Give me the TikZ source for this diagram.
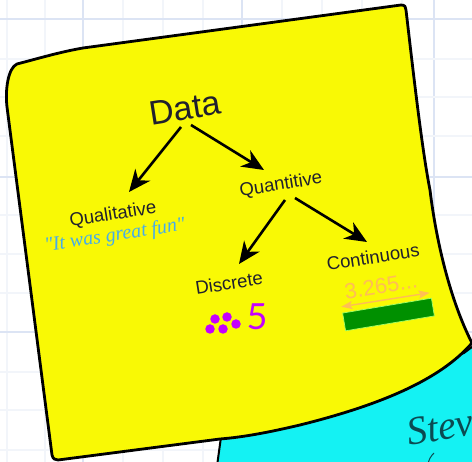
\documentclass[tikz,border=0pt]{standalone}
\usepackage{fontspec}
\setmainfont{Liberation Sans}
\newfontfamily\serifq{Liberation Serif}
\newfontfamily\thinf{Lato}
\usetikzlibrary{arrows.meta,calc}
\definecolor{stickyY}{HTML}{F9F905}
\definecolor{stickyC}{HTML}{14F2F3}
\definecolor{gridA}{HTML}{DCE4F4}
\definecolor{gridB}{HTML}{F2F5FA}
\definecolor{inkT}{HTML}{20202E}
\definecolor{quoteB}{HTML}{45ACEB}
\definecolor{orangeT}{HTML}{FFBE55}
\definecolor{purpleD}{HTML}{C400FF}
\definecolor{greenB}{HTML}{009000}
\definecolor{tealT}{HTML}{0B4B52}
\tikzset{
  lab/.style={text=inkT,inner sep=0pt,rotate=9,font=\fontsize{18.5}{18.5}\selectfont},
  conn/.style={draw=black,line width=2.6pt,-{Stealth[length=22pt,width=19pt,inset=7pt]}},
  dotp/.style={circle,fill=purpleD,minimum size=9.5pt,inner sep=0pt},
  gmaj/.style={draw=gridA,line width=1.6pt},
  gmin/.style={draw=gridB,line width=1.4pt}
}
\begin{document}
\begin{tikzpicture}[x=1pt,y=-1pt]
\useasboundingbox (0,0) rectangle (472,462);
\clip (0,0) rectangle (472,462);
\fill[white] (0,0) rectangle (472,462);
% grid
\foreach \x in {7,45,123,163,203,282,322,362,402}{\draw[gmin] (\x,0)--(\x,462);}
\foreach \x in {83,242,434}{\draw[gmaj] (\x,0)--(\x,462);}
\foreach \y in {59,97,136,215,254,293,372,410,450}{\draw[gmin] (0,\y)--(472,\y);}
\foreach \y in {19,177,332}{\draw[gmaj] (0,\y)--(472,\y);}
% cyan sticky
\draw[fill=stickyC,draw=black,line width=2pt] (221,437) -- (217,466) -- (476,466) -- (476,344) -- (464,353) -- cycle;
% yellow sticky
\draw[fill=stickyY,draw=black,line width=2.8pt,line join=round]
  (17,64) .. controls (40,58) and (60,52) .. (83,48)
  -- (401,5) .. controls (405,5) and (406,7) .. (406,10)
  .. controls (413,70) and (422,150) .. (430,190)
  .. controls (436,240) and (450,300) .. (472,343)
  .. controls (440,380) and (380,405) .. (300,425)
  .. controls (270,432) and (245,437) .. (220,439)
  -- (58,460) .. controls (55,460) and (53,459) .. (52,455)
  -- (7,107) .. controls (5,90) and (8,68) .. (17,64) -- cycle;
% labels
\node[lab,font=\fontsize{34}{34}\selectfont] (data) at (185,108) {Data};
\node[lab] (qual) at (113,215) {Qualitative};
\node[text=quoteB,inner sep=0pt,rotate=9,font=\serifq\itshape\fontsize{20}{20}\selectfont] (quote) at (115,236) {"It was great fun"};
\node[lab] (quant) at (281,185) {Quantitive};
\node[lab] (disc) at (229,283) {Discrete};
\node[lab] (cont) at (373,257) {Continuous};
\node[text=orangeT,inner sep=0pt,rotate=9,font=\fontsize{22}{22}\selectfont] (val) at (381,286) {3.265...};
% connectors
\draw[conn] ($(data.center)+(-4,19)$) -- ($(qual.center)+(16,-23)$);
\draw[conn] ($(data.center)+(6,17)$) -- ($(quant.center)+(-17,-15)$);
\draw[conn] ($(quant.center)+(4,15)$) -- ($(disc.center)+(10,-19)$);
\draw[conn] ($(quant.center)+(14,13)$) -- ($(cont.center)+(-6,-15)$);
% continuous measure
\node[fill=greenB,draw=green!60!yellow!60!white,line width=0.7pt,rotate=9.5,minimum width=90pt,minimum height=18pt,inner sep=0pt] (bar) at (388.5,314.5) {};
\draw[orangeT,line width=1.4pt,{Stealth[length=11pt,width=8pt,inset=2pt]}-{Stealth[length=11pt,width=8pt,inset=2pt]}]
  ($(bar.north west)+(-1,-6)$) -- ($(bar.north east)+(-2,-5)$);
% discrete dots
\node[dotp] (d1) at (215,319) {};
\node[dotp] (d2) at (227,317) {};
\node[dotp] (d3) at (236,324) {};
\node[dotp] (d4) at (223,329) {};
\node[dotp] (d5) at (210,329) {};
\node[text=purpleD,inner sep=0pt,font=\thinf\fontsize{36}{36}\selectfont] (five) at (257,317) {5};
% handwriting
\node[text=tealT,inner sep=0pt,anchor=west,rotate=10,font=\serifq\itshape\fontsize{40}{40}\selectfont] (stev) at (407,433) {Stev};
\draw[tealT,line width=1pt] (434,453) .. controls (431,456) and (429,459) .. (428,464);
\end{tikzpicture}
\end{document}
